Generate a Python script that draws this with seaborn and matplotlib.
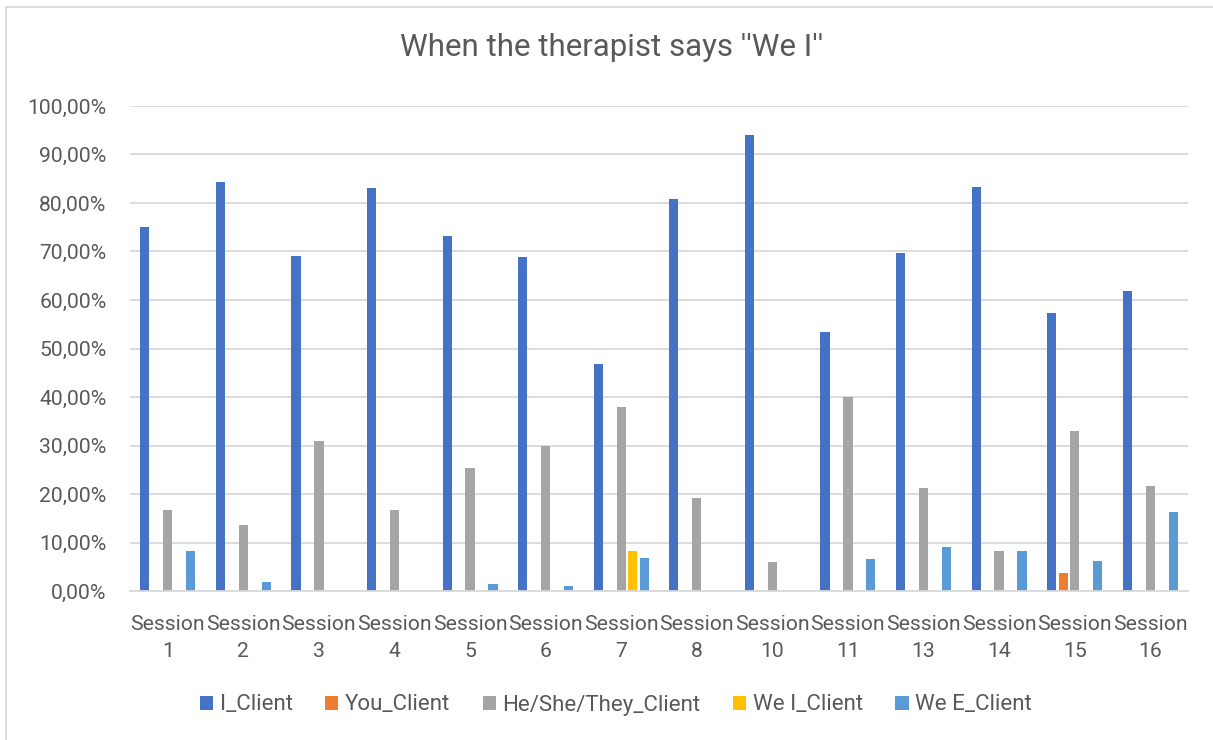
import matplotlib
matplotlib.use("Agg")
import matplotlib.pyplot as plt
from matplotlib.ticker import FuncFormatter, MultipleLocator
from matplotlib.lines import Line2D
import seaborn as sns
import pandas as pd

sessions = ["1", "2", "3", "4", "5", "6", "7", "8", "10", "11", "13", "14", "15", "16"]
series = ["I_Client", "You_Client", "He/She/They_Client", "We I_Client", "We E_Client"]
i_client = [75.0, 84.3, 69.0, 83.0, 73.2, 68.8, 46.8, 80.8, 94.1, 53.3, 69.6, 83.3, 57.3, 61.8]
you_client = [0, 0, 0, 0, 0, 0, 0, 0, 0, 0, 0, 0, 3.7, 0]
he_client = [16.7, 13.7, 30.9, 16.8, 25.3, 30.0, 37.9, 19.1, 5.9, 40.0, 21.2, 8.3, 32.9, 21.7]
we_i_client = [0, 0, 0, 0, 0, 0, 8.2, 0, 0, 0, 0, 0, 0, 0]
we_e_client = [8.3, 1.9, 0, 0, 1.4, 1.0, 6.9, 0, 0, 6.6, 9.0, 8.3, 6.1, 16.3]
colors = ["#4472C4", "#ED7D31", "#A5A5A5", "#FFC000", "#5B9BD5"]

rows = []
for name, vals in zip(series, [i_client, you_client, he_client, we_i_client, we_e_client]):
    for s, v in zip(sessions, vals):
        rows.append({"Session": f"Session\n{s}", "Series": name, "Value": v})
df = pd.DataFrame(rows)

sns.set_style("white")
plt.rcParams["font.family"] = ["Roboto", "DejaVu Sans"]
text_color = "#595959"

fig = plt.figure(figsize=(12.13, 7.40), dpi=100)
ax = fig.add_axes([130 / 1213, 1 - 591 / 740, (1188 - 130) / 1213, (591 - 106) / 740])

sns.barplot(data=df, x="Session", y="Value", hue="Series", hue_order=series,
            palette=colors, width=0.76, gap=0.2, ax=ax, errorbar=None,
            saturation=1, linewidth=0)

ax.set_ylim(0, 100)
ax.set_xlim(-0.5, len(sessions) - 0.5)
ax.yaxis.set_major_locator(MultipleLocator(10))
ax.yaxis.set_major_formatter(FuncFormatter(lambda v, p: f"{v:.2f}%".replace(".", ",")))
ax.grid(axis="y", color="#D9D9D9", linewidth=1.3)
ax.set_axisbelow(True)
for side in ["top", "right", "left"]:
    ax.spines[side].set_visible(False)
ax.spines["bottom"].set_color("#D9D9D9")
ax.spines["bottom"].set_linewidth(1.3)
ax.set_xlabel("")
ax.set_ylabel("")
ax.tick_params(axis="both", length=0, labelsize=15.2, labelcolor=text_color)
ax.tick_params(axis="y", pad=17)
ax.tick_params(axis="x", pad=17)
for lbl in ax.get_xticklabels():
    lbl.set_linespacing(1.55)

ax.legend(loc="center", bbox_to_anchor=((616 - 130) / 1058, (591 - 705) / 485), ncol=5,
          frameon=False, handlelength=0.6, handleheight=0.6, handletextpad=0.3,
          columnspacing=1.45, fontsize=16, labelcolor=text_color)

fig.text(612 / 1213, 1 - 47 / 740, "When the therapist says ''We I''", ha="center", va="center",
         fontsize=22.5, color=text_color)

# chart area frame
fig.add_artist(Line2D([6 / 1213, 6 / 1213], [0, 1 - 7 / 740], transform=fig.transFigure,
                      color="#D9D9D9", linewidth=1.3))
fig.add_artist(Line2D([6 / 1213, 1], [1 - 7 / 740, 1 - 7 / 740], transform=fig.transFigure,
                      color="#D9D9D9", linewidth=1.3))

fig.savefig("out.png", dpi=100)
